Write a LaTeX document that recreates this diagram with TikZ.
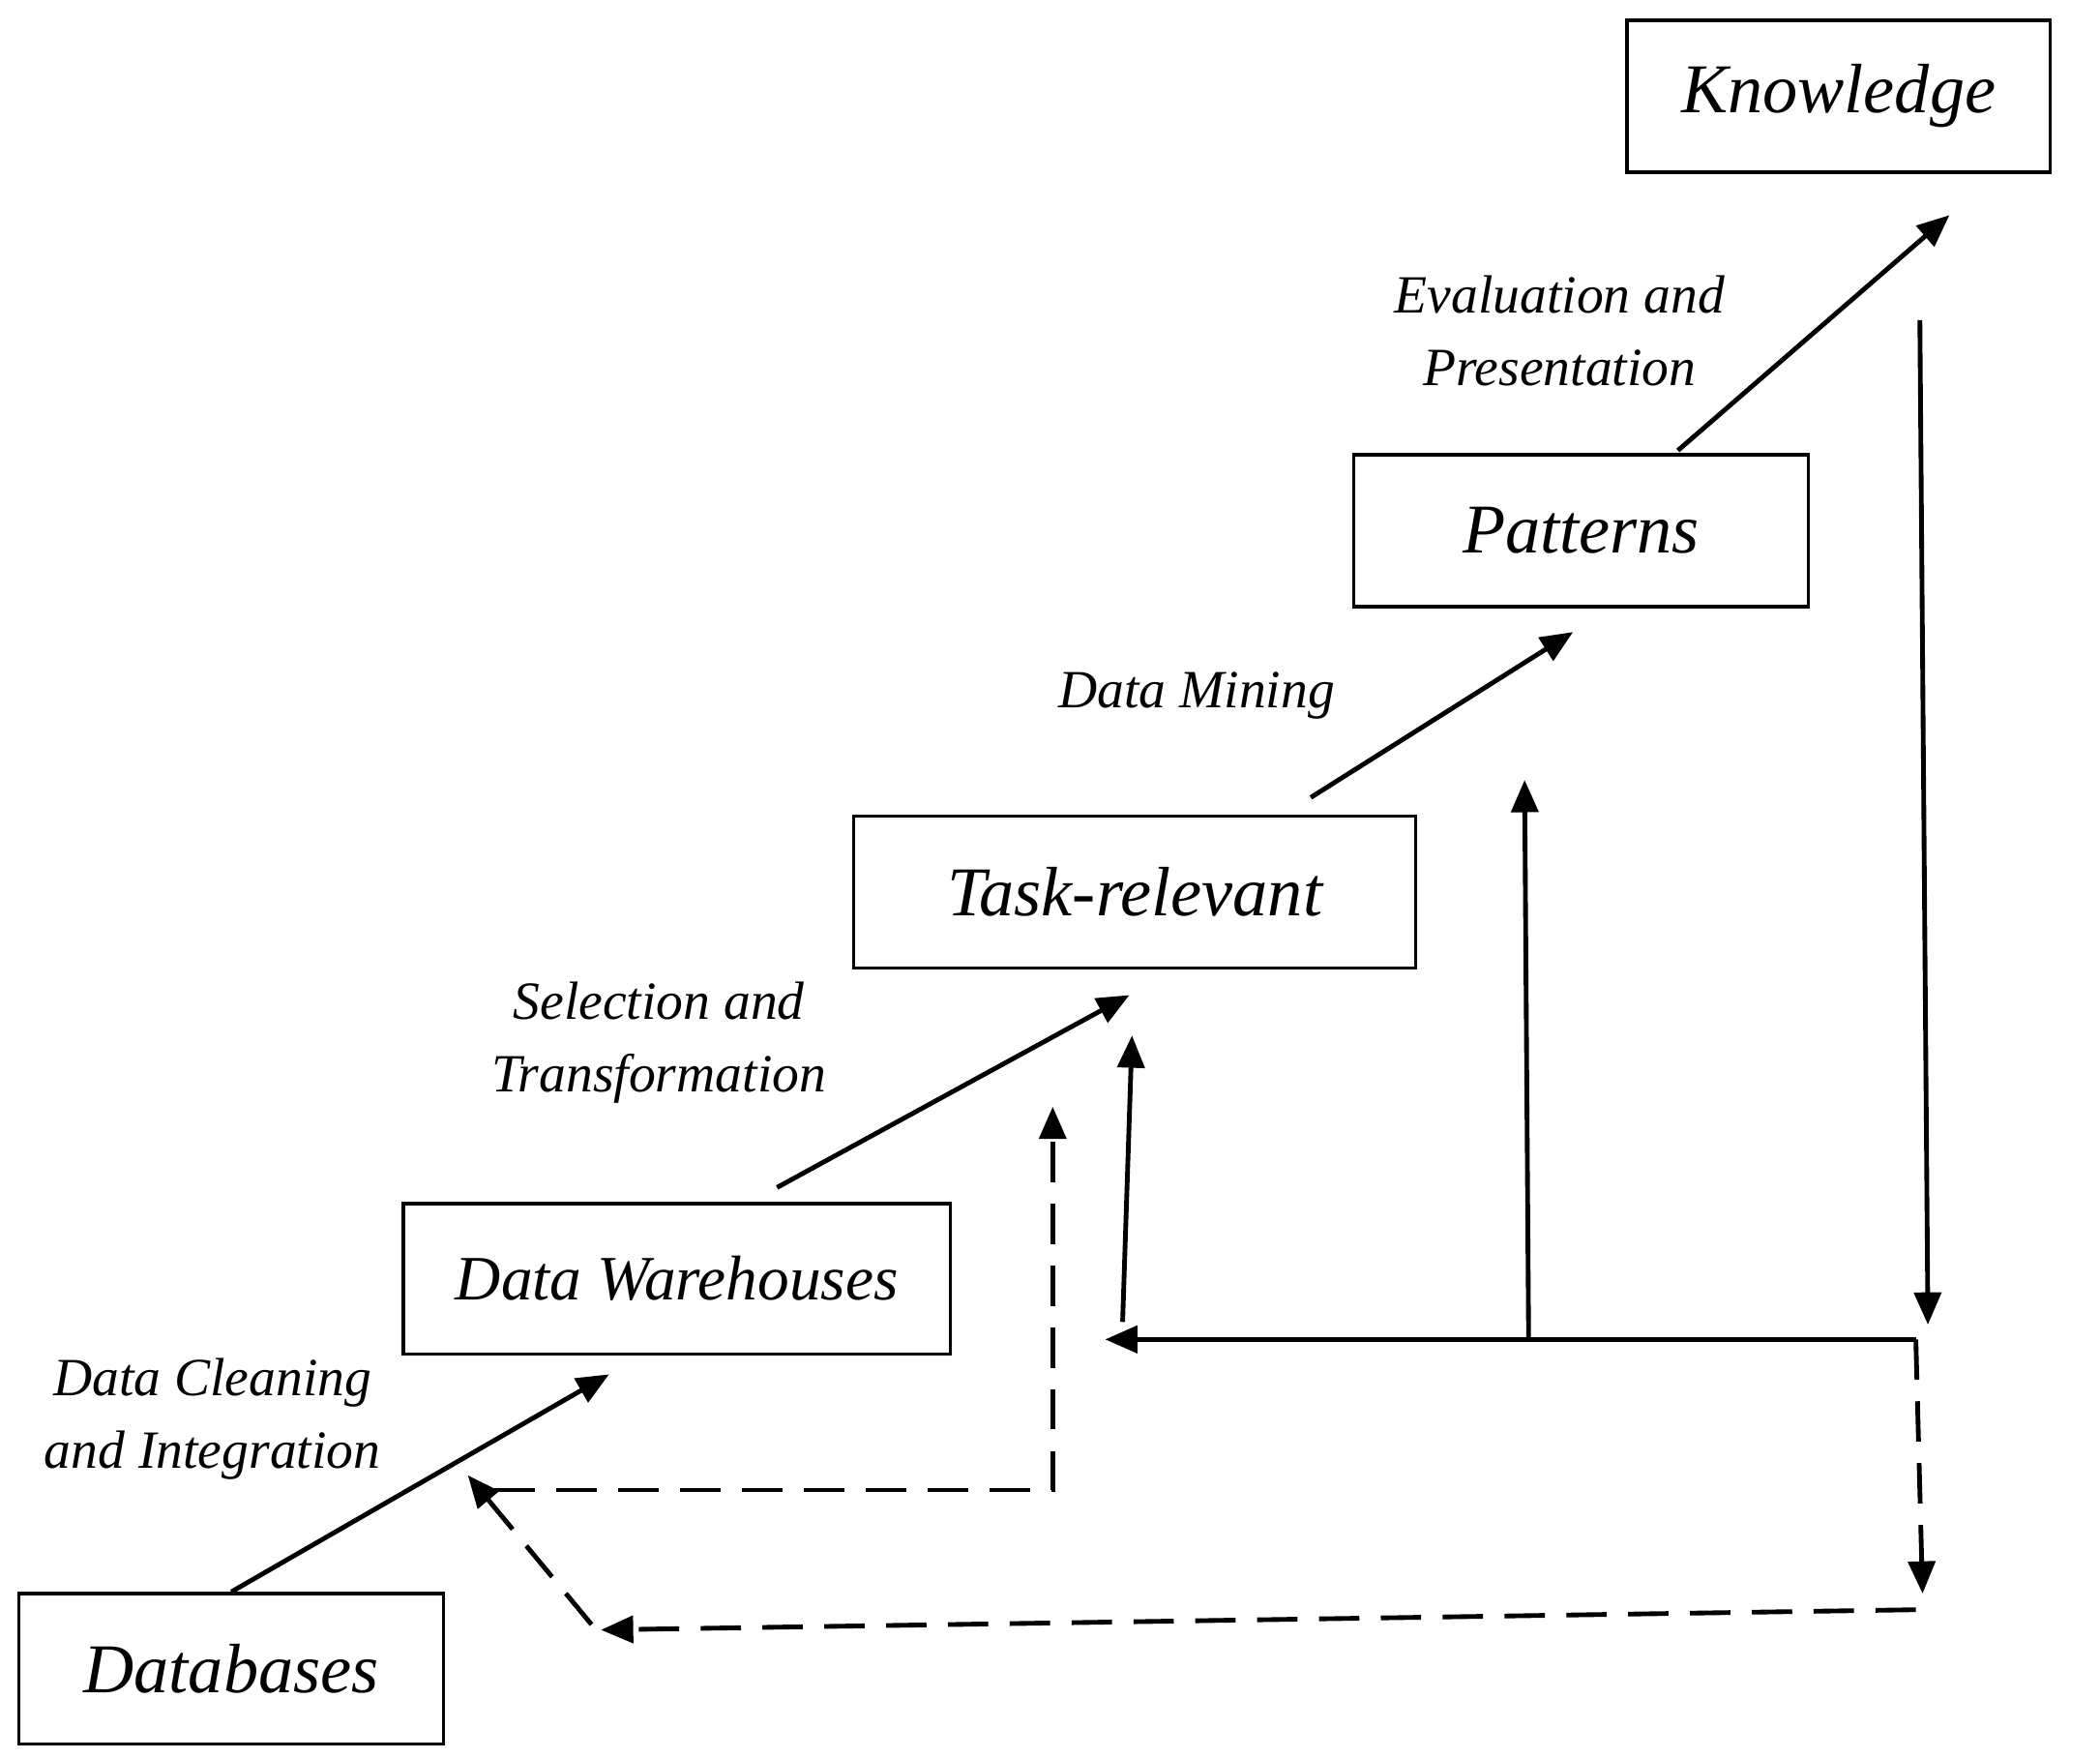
\documentclass[tikz,border=0pt]{standalone}
\usepackage{fontspec}
\setmainfont{Liberation Serif}
\usetikzlibrary{arrows.meta}
\begin{document}
\begin{tikzpicture}[x=1pt,y=-1pt,
  box/.style={draw,line width=2.5pt,inner sep=0pt,font=\fontsize{52}{60}\selectfont\itshape},
  lab/.style={font=\fontsize{40}{54}\selectfont\itshape,align=center},
  arr/.style={line width=3.5pt,-{Triangle[length=24pt,width=20pt]}},
  dsh/.style={arr,dash pattern=on 30pt off 16pt}]
\useasboundingbox (0,0) rectangle (1562,1308);
\node[box,minimum width=315,minimum height=113] (kn) at (1367.5,71.5) {Knowledge};
\node[box,minimum width=338,minimum height=113] (pa) at (1176,394.5) {Patterns};
\node[box,minimum width=418,minimum height=113] (tr) at (844,663.5) {Task-relevant};
\node[box,minimum width=407,minimum height=112,font=\fontsize{47}{56}\selectfont\itshape] (dw) at (503.5,951) {Data Warehouses};
\node[box,minimum width=316,minimum height=112] (db) at (172,1241) {Databases};
\coordinate (a1) at (453,1022);
\coordinate (a2e) at (578,883); \coordinate (a2) at (840,740);
\coordinate (a3e) at (975,593); \coordinate (a3) at (1170,470);
\coordinate (a4e) at (1248,335); \coordinate (a4) at (1450,160);
\coordinate (k1) at (1428,238); \coordinate (k2) at (1434,985);
\coordinate (c) at (1425,996); \coordinate (h1) at (822,996);
\coordinate (m) at (1137,996); \coordinate (m2) at (1134,580);
\coordinate (l1) at (835,983); \coordinate (l2) at (842,770);
\coordinate (d1) at (1430,1185); \coordinate (d2) at (1425,1197);
\coordinate (d3) at (447,1212); \coordinate (d4) at (440,1208);
\coordinate (d5) at (348,1097);
\coordinate (e1) at (783,1108); \coordinate (e2) at (783,823); \coordinate (e3) at (368,1108);
\draw[arr] (db.north) -- (a1);
\draw[arr] (a2e) -- (a2);
\draw[arr] (a3e) -- (a3);
\draw[arr] (a4e) -- (a4);
\draw[arr] (k1) -- (k2);
\draw[arr] (c) -- (h1);
\draw[arr] (m) -- (m2);
\draw[arr] (l1) -- (l2);
\draw[dsh] (c) -- (d1);
\draw[dsh] (d2) -- (d3);
\draw[dsh] (d4) -- (d5);
\draw[dsh] (e3) -- (e1) -- (e2);
\node[lab] at (158,1055) {Data Cleaning\\and Integration};
\node[lab] at (490,775) {Selection and\\Transformation};
\node[lab] at (890,517) {Data Mining};
\node[lab] at (1160,246) {Evaluation and\\Presentation};
\end{tikzpicture}
\end{document}
